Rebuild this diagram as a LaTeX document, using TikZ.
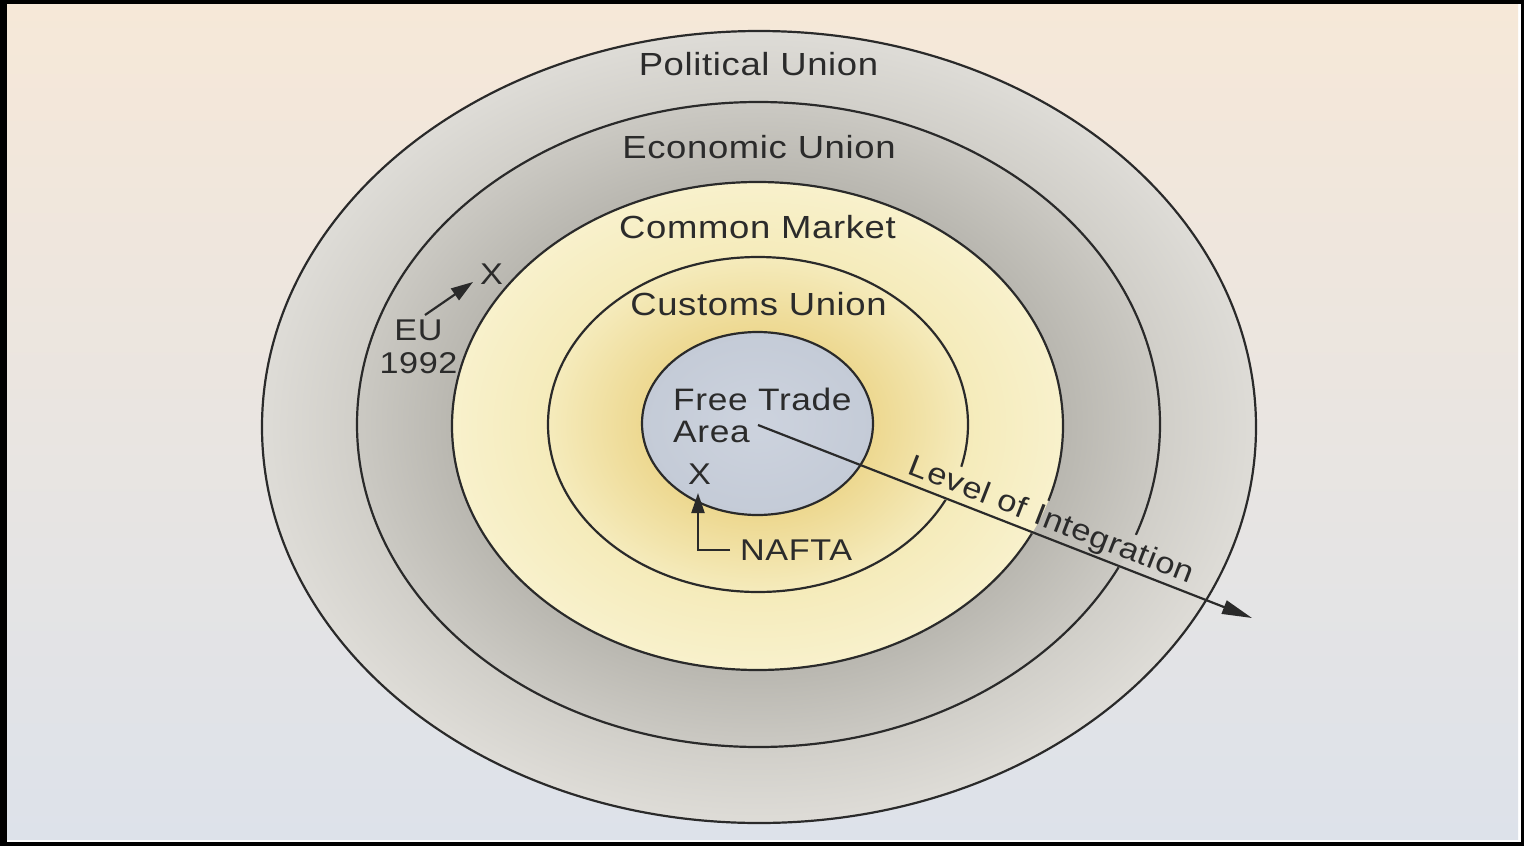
\documentclass[tikz,border=0pt]{standalone}
\usepackage{fontspec}
\setmainfont{Liberation Sans}
\newfontfamily\lblfont[FakeStretch=1.14,LetterSpace=2]{Liberation Sans}
\usetikzlibrary{arrows.meta}

\definecolor{txt}{HTML}{2B2B2B}
\definecolor{ln}{HTML}{2A2A2A}
\definecolor{bgtop}{HTML}{F6E8D8}
\definecolor{bgmid}{HTML}{E8E5E1}
\definecolor{bgbot}{HTML}{DDE2EA}
\definecolor{polin}{HTML}{D0CEC8}
\definecolor{polout}{HTML}{DEDCD7}
\definecolor{ecoin}{HTML}{B9B7B0}
\definecolor{ecoout}{HTML}{CBC9C3}
\definecolor{comin}{HTML}{F5EBBA}
\definecolor{comout}{HTML}{F8F1CC}
\definecolor{cusin}{HTML}{EDD890}
\definecolor{cusout}{HTML}{F5EBBC}
\definecolor{ftain}{HTML}{CDD3DE}
\definecolor{ftaout}{HTML}{C4CBD7}

\pgfdeclareradialshading{polsh}{\pgfpoint{0bp}{0bp}}{color(0bp)=(polin); color(20bp)=(polin); color(25bp)=(polout); color(50bp)=(polout)}
\pgfdeclareradialshading{ecosh}{\pgfpoint{0bp}{0bp}}{color(0bp)=(ecoin); color(19bp)=(ecoin); color(25bp)=(ecoout); color(50bp)=(ecoout)}
\pgfdeclareradialshading{comsh}{\pgfpoint{0bp}{0bp}}{color(0bp)=(comin); color(17bp)=(comin); color(25bp)=(comout); color(50bp)=(comout)}
\pgfdeclareradialshading{cussh}{\pgfpoint{0bp}{0bp}}{color(0bp)=(cusin); color(13.7bp)=(cusin); color(25bp)=(cusout); color(50bp)=(cusout)}
\pgfdeclareradialshading{ftash}{\pgfpoint{0bp}{0bp}}{color(0bp)=(ftain); color(25bp)=(ftaout); color(50bp)=(ftaout)}

\tikzset{
  lbl/.style={font={\lblfont\fontsize{32}{36}\selectfont}, text=txt, inner sep=0pt},
  smalllbl/.style={font={\lblfont\fontsize{30}{33}\selectfont}, text=txt, inner sep=0pt},
  ftalbl/.style={font={\lblfont\fontsize{31}{32}\selectfont}, text=txt, inner sep=0pt},
  lvllbl/.style={font={\lblfont\fontsize{30.2}{32}\selectfont}, text=txt, inner sep=4pt},
  ring/.style={draw=ln, line width=2.2pt},
  conn/.style={draw=ln, line width=2.2pt},
}

\begin{document}
\begin{tikzpicture}[x=1pt, y=-1pt]
\useasboundingbox (0,0) rectangle (1524,846);
% frame and background
\fill[black] (0,0) rectangle (1524,846);
\fill[white] (7,4) rectangle (1521,842);
\shade[top color=bgtop, middle color=bgmid, bottom color=bgbot] (7,4) rectangle (1518,839);

% filled ellipses
\path[shading=polsh] (759,427) ellipse [x radius=497, y radius=396];
\path[shading=ecosh] (758.5,424.5) ellipse [x radius=401.5, y radius=322.5];
\path[shading=comsh] (757.5,426) ellipse [x radius=305.5, y radius=244];
\path[shading=cussh] (758,424.5) ellipse [x radius=210, y radius=167.5];
\path[shading=ftash] (757.5,423.5) ellipse [x radius=115.5, y radius=91.5];

% labels
\node[lbl, anchor=base] (pu) at (758.5,75) {Political Union};
\node[lbl, anchor=base] (eu2) at (759,158) {Economic Union};
\node[lbl, anchor=base] (cm) at (757.5,238) {Common Market};
\node[lbl, anchor=base] (cu) at (758.5,315) {Customs Union};
\node[ftalbl, anchor=north west, align=left] (fta) at (673,388) {Free Trade\\Area};
\node[lvllbl, anchor=base west, rotate=-21.3] (lvl) at (903,472) {Level of Integration};

% ellipse outlines, knocked out behind the rotated label
\begin{scope}[even odd rule]
\clip (0,0) rectangle (1524,846)
  (lvl.north west) -- (lvl.north east) -- (lvl.south east) -- (lvl.south west) -- cycle;
\draw[ring] (759,427) ellipse [x radius=497, y radius=396];
\draw[ring] (758.5,424.5) ellipse [x radius=401.5, y radius=322.5];
\draw[ring] (757.5,426) ellipse [x radius=305.5, y radius=244];
\draw[ring] (758,424.5) ellipse [x radius=210, y radius=167.5];
\draw[ring] (757.5,423.5) ellipse [x radius=115.5, y radius=91.5];
\end{scope}

% marks and small labels
\node[smalllbl] (xfta) at (699.5,474) {X};
\node[smalllbl] (xeu) at (491.5,274) {X};
\node[smalllbl, anchor=north, align=center] (eulbl) at (418.5,320) {EU\\1992};
\node[smalllbl, anchor=base west] (nafta) at (740,560) {NAFTA};

% connectors
\coordinate (lvs) at (758,425);
\coordinate (lve) at (1252,618);
\draw[conn, -{Triangle[length=30pt,width=14pt]}] (lvs) -- (lve);

\coordinate (eus) at (425,315);
\coordinate (eue) at (473,282);
\draw[conn, -{Triangle[length=22pt,width=14pt]}] (eus) -- (eue);

\coordinate (ntip) at (698,493);
\draw[conn, -{Triangle[length=20pt,width=13pt]}] ([xshift=-10pt]nafta.west) -| (ntip);
\end{tikzpicture}
\end{document}
